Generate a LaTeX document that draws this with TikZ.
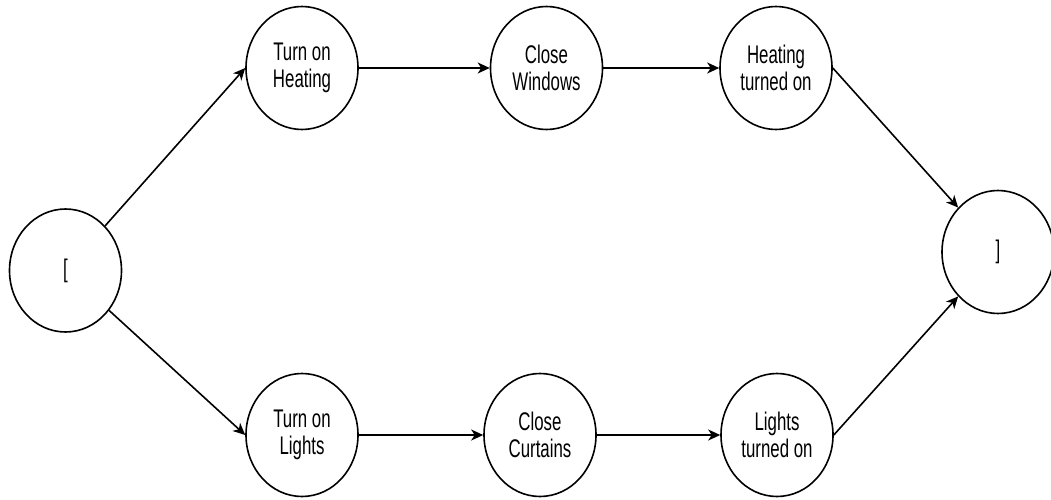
\documentclass[tikz,border=0pt]{standalone}
\usepackage{fontspec}
\setmainfont[FakeStretch=0.66]{Liberation Sans}
\usetikzlibrary{shapes.geometric,arrows.meta}
\begin{document}
\begin{tikzpicture}[x=1pt,y=-1pt,
  state/.style={ellipse,draw,line width=1.6pt,minimum width=112pt,minimum height=123pt,inner sep=0pt,align=center,font=\fontsize{25.5}{27}\selectfont},
  flow/.style={line width=1.6pt,-{Stealth[length=12pt,width=11pt,inset=3.5pt]}}]
\useasboundingbox (0,0) rectangle (1051,500);
\node[state] (start) at (65.5,270.5) {[};
\node[state] (th) at (302,68) {Turn on\\Heating};
\node[state] (cw) at (546.5,68) {Close\\Windows};
\node[state] (ht) at (776,68) {Heating\\turned on};
\node[state] (tl) at (302,435) {Turn on\\Lights};
\node[state] (cc) at (540,435) {Close\\Curtains};
\node[state] (lt) at (777,435) {Lights\\turned on};
\node[state] (end) at (998,252) {]};
\draw[flow] (start) -- (th.west);
\draw[flow] (start) -- (tl.west);
\draw[flow] (th.east) -- (cw.west);
\draw[flow] (cw.east) -- (ht.west);
\draw[flow] (tl.east) -- (cc.west);
\draw[flow] (cc.east) -- (lt.west);
\draw[flow] (ht.east) -- (end);
\draw[flow] (lt.east) -- (end);
\end{tikzpicture}
\end{document}
